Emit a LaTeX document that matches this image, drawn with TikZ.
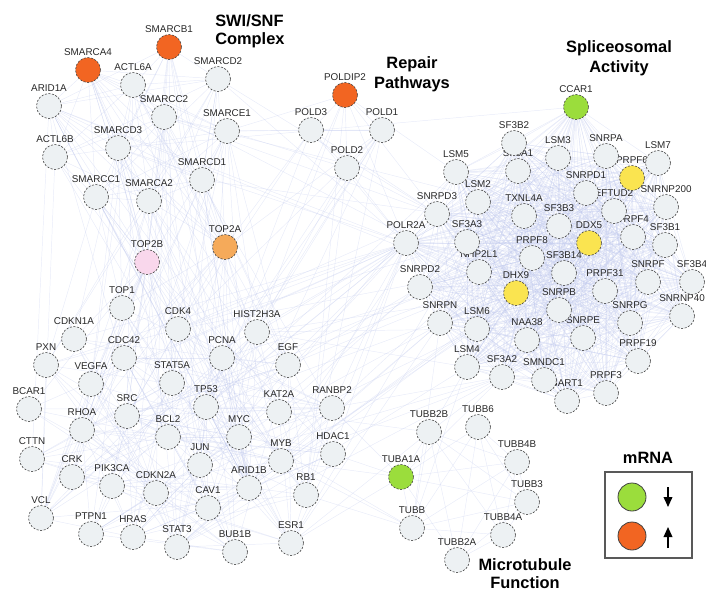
\documentclass[tikz,border=0pt]{standalone}
\usepackage{fontspec}
\setmainfont{Liberation Sans}
\usetikzlibrary{arrows.meta}
\pgfdeclarelayer{edges}
\pgfdeclarelayer{labels}
\pgfsetlayers{edges,labels,main}
\definecolor{nodefill}{RGB}{237,241,243}
\definecolor{nodeline}{RGB}{70,70,70}
\definecolor{upor}{RGB}{242,101,34}
\definecolor{downgr}{RGB}{155,221,60}
\definecolor{yel}{RGB}{250,228,80}
\definecolor{lor}{RGB}{245,170,90}
\definecolor{pinkc}{RGB}{249,215,236}
\definecolor{edgec}{RGB}{190,199,236}
\definecolor{txt}{RGB}{40,40,40}
\tikzset{
 gene/.style={circle, minimum size=18.75pt, inner sep=0pt, draw=nodeline, line width=0.45pt, dash pattern=on 1.6pt off 1.1pt, fill=nodefill},
 glabel/.style={anchor=south, inner sep=0pt, font=\fontsize{7.4}{8}\selectfont, text=txt},
 edge/.style={draw=edgec, line width=0.35pt, opacity=0.35},
 title/.style={font=\fontsize{12.3}{14}\selectfont\bfseries, inner sep=0pt, text=black},
 legcirc/.style={circle, minimum size=21pt, inner sep=0pt, draw=black!75, line width=0.6pt},
}
\newcommand\gn[3][]{\node[gene,#1] (#2) at (#3) {};\begin{pgfonlayer}{labels}\node[glabel] at ([yshift=10.5pt]#2.center) {#2};\end{pgfonlayer}}
\newcommand\myclique[2]{\foreach \a [count=\i] in #1 {\foreach \b [count=\j] in #1 {\ifnum\j>\i\relax \pgfmathtruncatemacro\mykeep{rnd<#2}\ifnum\mykeep=1\relax \draw[edge] (\a)--(\b);\fi\fi}}}
\newcommand\mycross[3]{\foreach \a in #1 {\foreach \b in #2 {\pgfmathtruncatemacro\mykeep{rnd<#3}\ifnum\mykeep=1\relax \draw[edge] (\a)--(\b);\fi}}}
\begin{document}
\begin{tikzpicture}[x=0.75pt,y=-0.75pt]
\pgfmathsetseed{7}
\useasboundingbox (0,0) rectangle (706,594);
% SWI/SNF
\gn[fill=upor]{SMARCB1}{169,47}
\gn[fill=upor]{SMARCA4}{88,70}
\gn{ACTL6A}{133,85}
\gn{SMARCD2}{218,79}
\gn{ARID1A}{49,106}
\gn{SMARCC2}{164,117}
\gn{SMARCE1}{227,131}
\gn{SMARCD3}{118,148}
\gn{ACTL6B}{55,157}
\gn{SMARCD1}{202,180}
\gn{SMARCC1}{96,197}
\gn{SMARCA2}{149,201}
\gn[fill=lor]{TOP2A}{225,247}
\gn[fill=pinkc]{TOP2B}{147,262}
% Repair
\gn[fill=upor]{POLDIP2}{345,95}
\gn{POLD3}{311,130}
\gn{POLD1}{382,130}
\gn{POLD2}{347,168}
% lower cluster
\gn{TOP1}{122,308}
\gn{CDK4}{178,329}
\gn{HIST2H3A}{257,332}
\gn{CDKN1A}{74,339}
\gn{CDC42}{124,358}
\gn{PCNA}{222,358}
\gn{EGF}{288,365}
\gn{PXN}{46,365}
\gn{VEGFA}{91,384}
\gn{STAT5A}{172,383}
\gn{TP53}{206,407}
\gn{KAT2A}{279,412}
\gn{RANBP2}{332,408}
\gn{BCAR1}{29,409}
\gn{SRC}{127,416}
\gn{RHOA}{82,430}
\gn{BCL2}{168,437}
\gn{MYC}{239,437}
\gn{CTTN}{32,459}
\gn{MYB}{281,461}
\gn{HDAC1}{333,454}
\gn{JUN}{200,465}
\gn{CRK}{72,477}
\gn{PIK3CA}{112,486}
\gn{ARID1B}{249,488}
\gn{CDKN2A}{156,493}
\gn{RB1}{306,495}
\gn{CAV1}{208,508}
\gn{VCL}{41,518}
\gn{PTPN1}{91,534}
\gn{HRAS}{133,537}
\gn{STAT3}{177,547}
\gn{ESR1}{291,543}
\gn{BUB1B}{235,552}
% tubulin
\gn{TUBB2B}{429,432}
\gn{TUBB6}{478,427}
\gn{TUBB4B}{517,462}
\gn[fill=downgr]{TUBA1A}{401,477}
\gn{TUBB3}{527,502}
\gn{TUBB}{412,528}
\gn{TUBB4A}{503,535}
\gn{TUBB2A}{457,560}
% spliceosome
\gn[fill=downgr]{CCAR1}{576,107}
\gn{SF3B2}{514,143}
\gn{LSM3}{558,158}
\gn{SNRPA}{606,156}
\gn{LSM5}{456,172}
\gn{SF3A1}{518,171}
\gn[fill=yel]{PRPF6}{632,178}
\gn{LSM7}{658,163}
\gn{SNRPD1}{586,193}
\gn{LSM2}{478,202}
\gn{SNRNP200}{666,207}
\gn{EFTUD2}{614,211}
\gn{SNRPD3}{437,214}
\gn{TXNL4A}{524,216}
\gn{SF3B3}{559,226}
\gn{PRPF4}{633,237}
\gn{POLR2A}{406,243}
\gn{SF3A3}{467,242}
\gn[fill=yel]{DDX5}{589,243}
\gn{SF3B1}{665,245}
\gn{PRPF8}{532,258}
\gn{NHP2L1}{479,272}
\gn{SF3B14}{564,273}
\gn{SNRPF}{648,282}
\gn{SF3B4}{692,282}
\gn{SNRPD2}{420,287}
\gn{PRPF31}{605,291}
\gn[fill=yel]{DHX9}{516,293}
\gn{SNRPB}{559,310}
\gn{SNRNP40}{682,316}
\gn{SNRPN}{440,323}
\gn{SNRPG}{630,323}
\gn{LSM6}{477,329}
\gn{SNRPE}{583,338}
\gn{NAA38}{527,340}
\gn{PRPF19}{638,361}
\gn{LSM4}{467,367}
\gn{SF3A2}{502,377}
\gn{SMNDC1}{544,380}
\gn{PRPF3}{606,393}
\gn{SART1}{567,401}
% edges
\def\swi{SMARCB1,SMARCA4,ACTL6A,SMARCD2,ARID1A,SMARCC2,SMARCE1,SMARCD3,ACTL6B,SMARCD1,SMARCC1,SMARCA2,ARID1B}
\def\low{TOP1,CDK4,HIST2H3A,CDKN1A,CDC42,PCNA,EGF,PXN,VEGFA,STAT5A,TP53,KAT2A,RANBP2,BCAR1,SRC,RHOA,BCL2,MYC,CTTN,MYB,HDAC1,JUN,CRK,PIK3CA,ARID1B,CDKN2A,RB1,CAV1,VCL,PTPN1,HRAS,STAT3,ESR1,BUB1B}
\def\spl{CCAR1,SF3B2,LSM3,SNRPA,LSM7,LSM5,SF3A1,PRPF6,SNRPD1,LSM2,SNRNP200,EFTUD2,SNRPD3,TXNL4A,SF3B3,PRPF4,POLR2A,SF3A3,DDX5,SF3B1,PRPF8,NHP2L1,SF3B14,SNRPF,SF3B4,SNRPD2,PRPF31,DHX9,SNRPB,SNRNP40,SNRPN,SNRPG,LSM6,SNRPE,NAA38,PRPF19,LSM4,SF3A2,SMNDC1,PRPF3,SART1}
\def\tub{TUBB2B,TUBB6,TUBB4B,TUBA1A,TUBB3,TUBB,TUBB4A,TUBB2A}
\def\pol{POLDIP2,POLD3,POLD1,POLD2}
\def\toplist{TOP2A,TOP2B}
\def\polr{POLR2A}
\def\splleft{POLR2A,SNRPD3,SNRPD2,SNRPN,LSM4,LSM6,LSM5,SF3A3,DHX9,DDX5,SF3A2,NHP2L1}
\def\hubs{TP53,MYC,HDAC1,ESR1,RB1,KAT2A,EGF,HIST2H3A,PCNA,JUN,BCL2,CDKN2A,SRC,STAT3,MYB,CDK4,RANBP2}
\def\splhub{POLR2A,DDX5,DHX9,SNRPD3,SF3B1,PRPF8,CCAR1,SNRPD2}
\def\polt{PCNA,TP53,RB1,POLR2A,LSM5,SNRPD3,HIST2H3A,MYC,CDK4,SMARCE1,TOP2A}
\def\tubh{TUBA1A,TUBB,TUBB2B}
\def\tubt{ESR1,HDAC1,RB1,MYB,KAT2A,TP53,RANBP2,LSM4,SF3A2,SNRPN,PRPF19}
\begin{pgfonlayer}{edges}
\myclique{\swi}{0.8}
\myclique{\spl}{0.92}
\myclique{\low}{0.3}
\myclique{\tub}{0.85}
\myclique{\pol}{1}
\mycross{\swi}{\low}{0.15}
\mycross{\toplist}{\swi}{0.6}
\mycross{\toplist}{\low}{0.5}
\mycross{\polr}{\low}{0.5}
\mycross{\splleft}{\hubs}{0.12}
\mycross{\swi}{\splhub}{0.15}
\mycross{\pol}{\polt}{0.5}
\mycross{\tubh}{\tubt}{0.4}
\end{pgfonlayer}
% titles
\node[title, anchor=base west] (tsw1) at (215,26) {SWI/SNF};
\node[title, anchor=base west] (tsw2) at (215,44) {Complex};
\node[title, anchor=base] (trp1) at (412,68) {Repair};
\node[title, anchor=base] (trp2) at (412,88) {Pathways};
\node[title, anchor=base] (tsp1) at (619,52) {Spliceosomal};
\node[title, anchor=base] (tsp2) at (619,72) {Activity};
\node[title, anchor=base] (tmt1) at (525,570) {Microtubule};
\node[title, anchor=base] (tmt2) at (525,588) {Function};
% legend
\node[title, anchor=base] (legt) at (648,463) {mRNA};
\draw[draw=black!65, line width=1.1pt] (605,472) rectangle (692,558);
\node[legcirc, fill=downgr] (legdown) at (632,497) {};
\node[legcirc, fill=upor] (legup) at (632,536) {};
\coordinate (da) at (668,487);
\coordinate (db) at (668,507);
\coordinate (ua) at (668,548);
\coordinate (ub) at (668,527);
\draw[line width=1.1pt, -{Triangle[length=7.5pt,width=6.5pt]}] (da) -- (db);
\draw[line width=1.1pt, -{Triangle[length=7.5pt,width=6.5pt]}] (ua) -- (ub);
\end{tikzpicture}
\end{document}
